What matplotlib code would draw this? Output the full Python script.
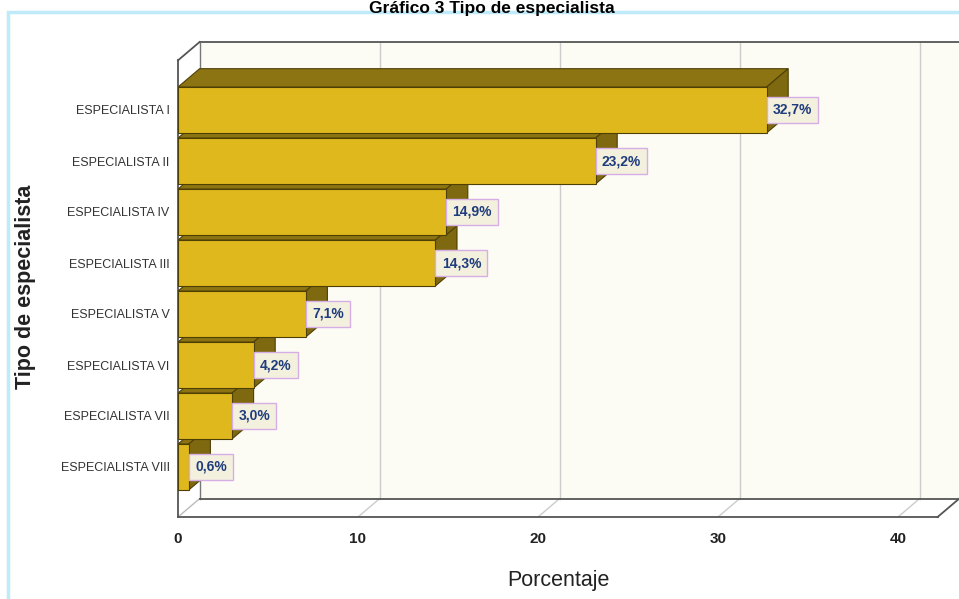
import matplotlib
matplotlib.use('Agg')
import matplotlib.pyplot as plt
from matplotlib.patches import Polygon, Rectangle

categories = ['ESPECIALISTA I', 'ESPECIALISTA II', 'ESPECIALISTA IV', 'ESPECIALISTA III',
              'ESPECIALISTA V', 'ESPECIALISTA VI', 'ESPECIALISTA VII', 'ESPECIALISTA VIII']
values = [32.7, 23.2, 14.9, 14.3, 7.1, 4.2, 3.0, 0.6]
value_labels = ['32,7%', '23,2%', '14,9%', '14,3%', '7,1%', '4,2%', '3,0%', '0,6%']
xticks = [0, 10, 20, 30, 40]

W, H = 959, 599
fig = plt.figure(figsize=(W / 100, H / 100), dpi=100)
fig.patch.set_facecolor('white')

# light blue frame around the chart
fig.patches.append(Rectangle((8 / W, -0.05), 1.1, 1 - 12 / H + 0.05, transform=fig.transFigure,
                             facecolor='none', edgecolor='#BFEAFA', linewidth=2.5, zorder=0))
fig.text(492 / W, 1 - 12.5 / H, 'Gráfico 3 Tipo de especialista', ha='center', va='baseline',
         fontsize=12.5, fontweight='bold', family='Liberation Sans', zorder=5)

ax = fig.add_axes([178 / W, (H - 517) / H, 781 / W, (517 - 42) / H])
xmax = 781 / 18.0
ax.set_xlim(0, xmax)
ybot = (517 - 110) / 51.0
ytop = (42 - 110) / 51.0
ax.set_ylim(ybot, ytop)
for s in ax.spines.values():
    s.set_visible(False)
ax.set_facecolor('none')

DX, DY = 1.2, 0.36        # depth offset in data units
xr = 42.2                 # right end of front floor
yf_top = ytop + DY        # top of front-left edge

# back wall
ax.add_patch(Rectangle((DX, ytop), xmax - DX, ybot - DY - ytop, facecolor='#FCFCF5',
                       edgecolor='none', zorder=0))
# left wall
ax.add_patch(Polygon([(0, yf_top), (DX, ytop), (DX, ybot - DY), (0, ybot)], closed=True,
                     facecolor='white', edgecolor='none', zorder=0))
# grid lines on back wall and floor
for t in xticks[1:]:
    ax.plot([t + DX, t + DX], [ytop, ybot - DY], color='#CCCCCC', lw=1, zorder=1)
    ax.plot([t, t + DX], [ybot, ybot - DY], color='#CCCCCC', lw=1, zorder=1)
ax.plot([0, DX], [ybot, ybot - DY], color='#BBBBBB', lw=1, zorder=1)

# frame outlines
ln = dict(color='#555555', lw=1.3, zorder=1, clip_on=False)
ax.plot([DX, xmax], [ytop, ytop], **ln)
ax.plot([DX, DX], [ytop, ybot - DY], color='#777777', lw=1, zorder=1)
ax.plot([0, DX], [yf_top, ytop], **ln)
ax.plot([DX, xmax], [ybot - DY, ybot - DY], **ln)
ax.plot([0, xr], [ybot, ybot], **ln)
ax.plot([xr, xr + DX], [ybot, ybot - DY], **ln)
ax.plot([0, 0], [yf_top, ybot], **ln)

# 3D bars, drawn bottom to top
front = '#DFB81E'
topc = '#8C7412'
side = '#7E6810'
edge = '#4E4005'
hw = 0.45
for i in range(len(values) - 1, -1, -1):
    v = values[i]
    y0, y1 = i - hw, i + hw
    ax.add_patch(Polygon([(0, y0), (v, y0), (v + DX, y0 - DY), (DX, y0 - DY)], closed=True,
                         facecolor=topc, edgecolor=edge, lw=0.8, zorder=3))
    ax.add_patch(Polygon([(v, y0), (v + DX, y0 - DY), (v + DX, y1 - DY), (v, y1)], closed=True,
                         facecolor=side, edgecolor=edge, lw=0.8, zorder=3))
    ax.add_patch(Rectangle((0, y0), v, 2 * hw, facecolor=front, edgecolor=edge, lw=0.8, zorder=3))
    ax.annotate(value_labels[i], xy=(v, i), xytext=(4.5, 0), textcoords='offset points',
                ha='left', va='center', fontsize=10, fontweight='bold',
                color='#1F3C7C', zorder=5, family='Liberation Sans',
                bbox=dict(boxstyle='square,pad=0.45', facecolor='#F4F0DE', edgecolor='#D6AEE6', lw=1))

ax.set_yticks(range(len(categories)))
ax.set_yticklabels(categories, fontsize=9, color='#333333', family='Liberation Sans')
ax.set_xticks(xticks)
ax.set_xticklabels([str(t) for t in xticks], fontsize=11, fontweight='bold', color='#222222',
                   family='Liberation Sans')
ax.tick_params(axis='both', length=0)
ax.tick_params(axis='y', pad=6)
ax.tick_params(axis='x', pad=11)

ax.set_xlabel('Porcentaje', fontsize=15.5, family='Liberation Sans', color='#222222')
ax.xaxis.set_label_coords((558 - 178) / 781, (517 - 570) / 475)
ax.set_ylabel('Tipo de especialista', fontsize=15.5, fontweight='bold', family='Liberation Sans',
              color='#222222')
ax.yaxis.set_label_coords((36 - 178) / 781, (517 - 287) / 475)

fig.savefig('out.png', dpi=100)
